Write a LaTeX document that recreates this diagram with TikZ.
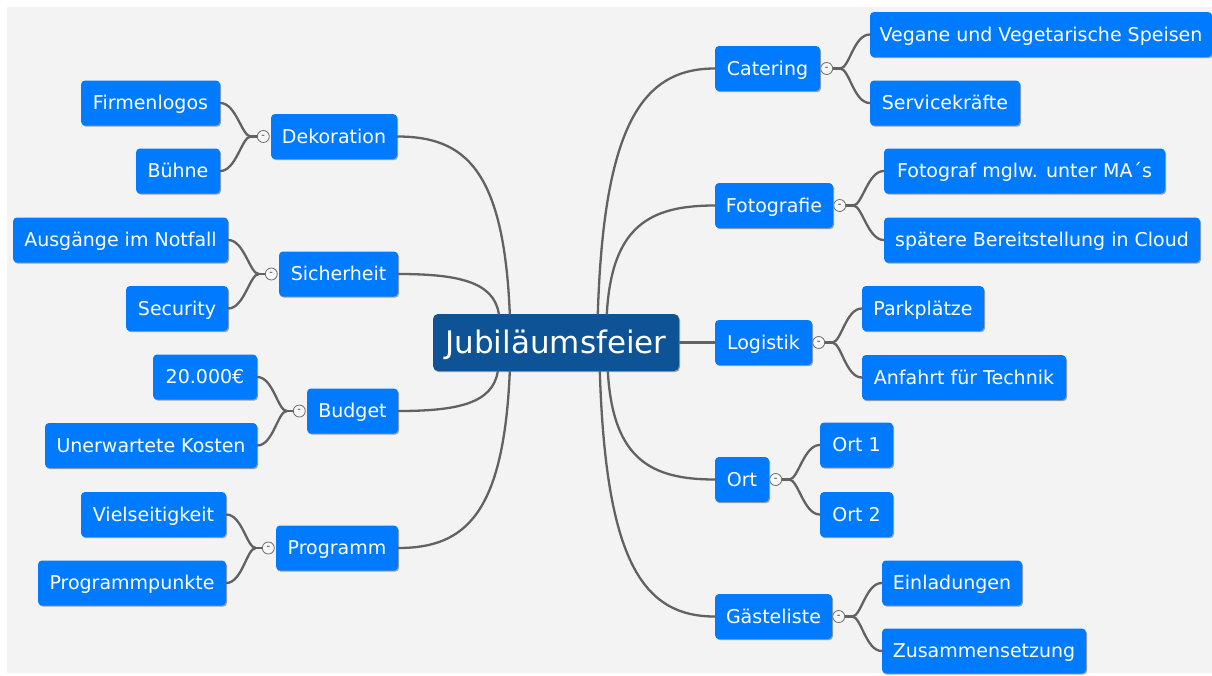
\documentclass[tikz,border=0pt]{standalone}
\usepackage{fontspec}
\setmainfont{DejaVu Sans}
\usetikzlibrary{calc,shadows}
\definecolor{canvasgray}{RGB}{243,243,243}
\definecolor{topicblue}{RGB}{0,123,255}
\definecolor{rootblue}{RGB}{13,83,149}
\definecolor{linkgray}{RGB}{98,98,98}
\definecolor{togglegray}{RGB}{110,110,110}
\begin{document}
\begin{tikzpicture}[x=1pt,y=-1pt,
  boxshadow/.style={drop shadow={shadow xshift=1pt,shadow yshift=-1.2pt,opacity=0.35,fill=black}},
  topic/.style={rectangle,rounded corners=4pt,fill=topicblue,text=white,inner sep=0pt,
    minimum height=45pt,text height=13.8pt,text depth=0pt,
    font=\fontsize{19}{23}\selectfont,boxshadow},
  centraltopic/.style={rectangle,rounded corners=5pt,fill=rootblue,text=white,inner sep=0pt,
    minimum height=57pt,text height=22.6pt,text depth=0pt,
    font=\fontsize{31}{36}\selectfont,boxshadow},
  link/.style={draw=linkgray,line width=2.3pt,line cap=round},
  toggle/.style={circle,draw=togglegray,fill=white!94!gray,line width=0.8pt,minimum size=12pt,
    inner sep=0pt,font=\fontsize{10}{10}\selectfont,text=black!80}]

% canvas
\useasboundingbox (0,0) rectangle (1212,675);
\fill[canvasgray] (7,7) rectangle (1212,673);

% central topic
\node[centraltopic,minimum width=246pt] (root) at (556,342.5) {Jubiläumsfeier};

% right-hand branches
\node[topic,minimum width=105pt] (cat) at (767.5,68.5) {Catering};
\node[topic,minimum width=342pt] (veg) at (1041,34.5) {Vegane und Vegetarische Speisen};
\node[topic,minimum width=150pt] (serv) at (945,103) {Servicekräfte};
\node[topic,minimum width=118pt] (foto) at (774,205.5) {Fotografie};
\node[topic,minimum width=281pt] (fmgl) at (1024.5,171) {Fotograf mglw. unter MA´s};
\node[topic,minimum width=316pt] (spaet) at (1042,240) {spätere Bereitstellung in Cloud};
\node[topic,minimum width=97pt] (log) at (763.5,342.5) {Logistik};
\node[topic,minimum width=122pt] (park) at (923,308.5) {Parkplätze};
\node[topic,minimum width=204pt] (anf) at (964,377.5) {Anfahrt für Technik};
\node[topic,minimum width=54pt] (ort) at (742,479.5) {Ort};
\node[topic,minimum width=73pt] (ort1) at (856.5,445) {Ort 1};
\node[topic,minimum width=73pt] (ort2) at (856.5,514.5) {Ort 2};
\node[topic,minimum width=117pt] (gast) at (773.5,616.5) {Gästeliste};
\node[topic,minimum width=140pt] (einl) at (952,583) {Einladungen};
\node[topic,minimum width=204pt] (zus) at (984,651) {Zusammensetzung};

% left-hand branches
\node[topic,minimum width=126pt] (deko) at (334,136.5) {Dekoration};
\node[topic,minimum width=139pt] (firm) at (150.5,103) {Firmenlogos};
\node[topic,minimum width=84pt] (buehne) at (178,171) {Bühne};
\node[topic,minimum width=119pt] (sich) at (338.5,274) {Sicherheit};
\node[topic,minimum width=215pt] (ausg) at (120.5,240) {Ausgänge im Notfall};
\node[topic,minimum width=102pt] (secu) at (177,308.5) {Security};
\node[topic,minimum width=91pt] (budg) at (352.5,411) {Budget};
\node[topic,minimum width=104pt] (geld) at (205,377) {20.000€};
\node[topic,minimum width=212pt] (kost) at (151,445.5) {Unerwartete Kosten};
\node[topic,minimum width=122pt] (prog) at (337,548) {Programm};
\node[topic,minimum width=145pt] (viel) at (153.5,514.5) {Vielseitigkeit};
\node[topic,minimum width=188pt] (punk) at (132,583) {Programmpunkte};

% attachment points on the central topic
\coordinate (rDeko) at ($(root.north west)+(77,0)$);
\coordinate (rSich) at ($(root.north west)+(66,0)$);
\coordinate (rBudg) at ($(root.south west)+(65,0)$);
\coordinate (rProg) at ($(root.south west)+(77,0)$);
\coordinate (rCat)  at ($(root.north west)+(165,0)$);
\coordinate (rFoto) at ($(root.north west)+(174,0)$);
\coordinate (rOrt)  at ($(root.south west)+(175,0)$);
\coordinate (rGast) at ($(root.south west)+(167,0)$);

% main branches
\draw[link] (deko.east) .. controls +(68,0) and +(-6,-144) .. (rDeko);
\draw[link] (sich.east) .. controls +(60,0) and +(-5,-32) .. (rSich);
\draw[link] (budg.east) .. controls +(60,0) and +(-5,32) .. (rBudg);
\draw[link] (prog.east) .. controls +(67,0) and +(-6,143) .. (rProg);
\draw[link] (cat.west) .. controls +(-72,0) and +(6,-190) .. (rCat);
\draw[link] (foto.west) .. controls +(-65,0) and +(5,-88) .. (rFoto);
\draw[link] (ort.west) .. controls +(-64,0) and +(5,88) .. (rOrt);
\draw[link] (gast.west) .. controls +(-72,0) and +(6,190) .. (rGast);
\draw[link] (root.east) -- (log.west);

% sub-branches on the right
\foreach \p/\a/\b in {cat/veg/serv,foto/fmgl/spaet,log/park/anf,ort/ort1/ort2,gast/einl/zus}{
  \coordinate (\p-fork) at ($(\p.east)+(20,0)$);
  \draw[link] (\p-fork) .. controls +(9,0) and +(-16,0) .. (\a.west);
  \draw[link] (\p-fork) .. controls +(9,0) and +(-16,0) .. (\b.west);
  \draw[link] ($(\p.east)+(12,0)$) -- (\p-fork);
  \node[toggle] (\p-toggle) at ($(\p.east)+(6.5,0)$) {-};
}

% sub-branches on the left
\foreach \p/\a/\b in {deko/firm/buehne,sich/ausg/secu,budg/geld/kost,prog/viel/punk}{
  \coordinate (\p-fork) at ($(\p.west)+(-20,0)$);
  \draw[link] (\p-fork) .. controls +(-9,0) and +(16,0) .. (\a.east);
  \draw[link] (\p-fork) .. controls +(-9,0) and +(16,0) .. (\b.east);
  \draw[link] ($(\p.west)+(-12,0)$) -- (\p-fork);
  \node[toggle] (\p-toggle) at ($(\p.west)+(-7.5,0)$) {-};
}
\end{tikzpicture}
\end{document}
